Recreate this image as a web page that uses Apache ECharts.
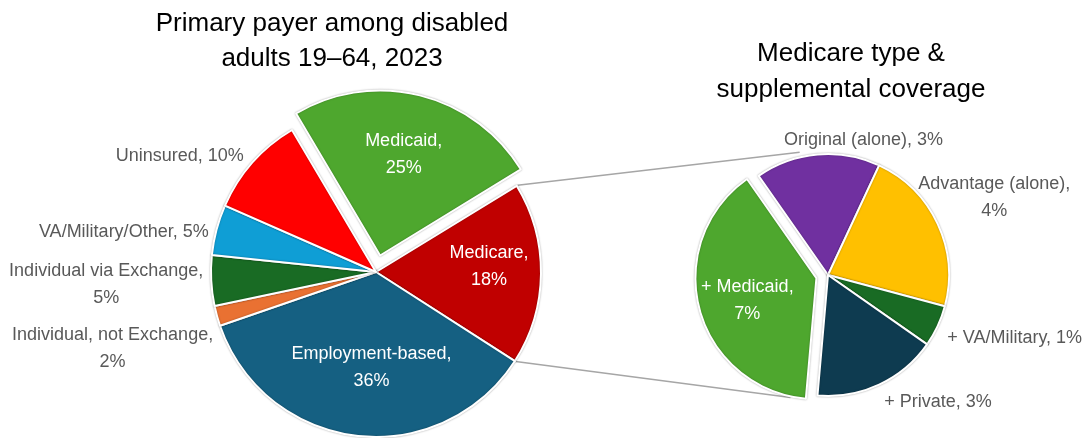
<!DOCTYPE html>
<html>
<head>
<meta charset="utf-8">
<script src="https://cdn.jsdelivr.net/npm/echarts@6/dist/echarts.min.js"></script>
<style>
  html, body { margin: 0; padding: 0; background: #fff; }
  #chart { width: 1086px; height: 438px; }
</style>
</head>
<body>
<div id="chart"></div>
<script>
// Primary payer, disabled adults 19–64 (percent), clockwise from the Medicare slice
const payerNames = ['Medicare', 'Employment-based', 'Individual, not Exchange', 'Individual via Exchange', 'VA/Military/Other', 'Uninsured', 'Medicaid'];
const payerShares = [18, 36, 2, 5, 5, 10, 25];

// Breakdown of the Medicare slice (percent of all disabled adults)
const medicareNames = ['Original (alone)', 'Advantage (alone)', '+ VA/Military', '+ Private', '+ Medicaid'];
const medicareShares = [3, 4, 1, 3, 7];

const payerColors = ['#C00000', '#156082', '#E97132', '#196B24', '#0F9ED5', '#FF0000', '#4EA72E'];
const medicareColors = ['#7030A0', '#FFC000', '#196B24', '#0E3B50', '#4EA72E'];

// separator between name and value in each label (line break or space)
const payerSeps = ['\n', '\n', '\n', '\n', ' ', ' ', '\n'];
const medicareSeps = [' ', '\n', ' ', ' ', '\n'];

const FONT = 'Liberation Sans';
const LABEL_GRAY = '#595959';

// start angles are degrees clockwise from 12 o'clock
const leftPie = { center: [376, 272], radius: 165, start: 58.5, explode: 17 };
const rightPie = { center: [828, 275], radius: 121, start: 325, explode: 12 };

const insideLabels = new Set(['Medicare', 'Employment-based', 'Medicaid', '+ Medicaid']);
const explodedSlices = new Set(['Medicaid', '+ Medicaid']);
// small nudges for labels that sit away from their default spot
const labelNudge = {
  'Medicare': [7, -7],
  'Employment-based': [8, -10],
  'Medicaid': [-2, 2],
  '+ Medicaid': [7, 2],
  'Uninsured': [0, -3],
  'VA/Military/Other': [2, 4],
  'Individual via Exchange': [2, 4],
  'Individual, not Exchange': [6, 31],
  'Original (alone)': [131, -9],
  'Advantage (alone)': [-29, -24],
  '+ VA/Military': [0, 10],
  '+ Private': [-2, 13]
};
const INSIDE_PUSH = 0.24; // move inside labels outward from the default half radius

function buildPie(names, values, colors, seps, geo) {
  return {
    type: 'pie',
    center: geo.center,
    radius: geo.radius,
    startAngle: ((90 - geo.start) % 360 + 360) % 360,
    clockwise: true,
    selectedMode: 'multiple',
    selectedOffset: geo.explode,
    avoidLabelOverlap: false,
    silent: true,
    emphasis: { disabled: true },
    animation: false,
    itemStyle: {
      borderColor: '#ffffff',
      borderWidth: 2,
      shadowBlur: 2,
      shadowColor: 'rgba(0,0,0,0.3)'
    },
    label: {
      show: true,
      position: 'outside',
      fontFamily: FONT,
      fontSize: 18,
      lineHeight: 27,
      color: LABEL_GRAY,
      formatter: p => p.name + ',' + seps[p.dataIndex] + p.value + '%'
    },
    labelLine: { show: false, length: 5, length2: 0 },
    labelLayout: function (params) {
      const name = names[params.dataIndex];
      const r = params.labelRect;
      const cx = r.x + r.width / 2;
      const cy = r.y + r.height / 2;
      const n = labelNudge[name] || [0, 0];
      if (insideLabels.has(name)) {
        return {
          dx: (cx - geo.center[0]) * INSIDE_PUSH + n[0],
          dy: (cy - geo.center[1]) * INSIDE_PUSH + n[1]
        };
      }
      // centre multi-line text on the block while keeping the block in place
      let dx = 0;
      if (params.align === 'right') dx = -r.width / 2;
      else if (params.align === 'left') dx = r.width / 2;
      return { align: 'center', dx: dx + n[0], dy: n[1] };
    },
    data: names.map((n, i) => ({
      name: n,
      value: values[i],
      selected: explodedSlices.has(n),
      itemStyle: { color: colors[i] },
      label: insideLabels.has(n) ? { position: 'inside', color: '#ffffff' } : {}
    }))
  };
}

function pointOn(geo, angleDeg, extra) {
  const a = angleDeg * Math.PI / 180;
  const rr = geo.radius + (extra || 0);
  return [geo.center[0] + rr * Math.sin(a), geo.center[1] - rr * Math.cos(a)];
}

// connector lines from the edges of the Medicare slice to the breakdown pie
const payerTotal = payerShares.reduce((a, b) => a + b, 0);
const medicareStart = leftPie.start;
const medicareEnd = leftPie.start + payerShares[0] / payerTotal * 360;
const topFrom = pointOn(leftPie, medicareStart, 1);
const botFrom = pointOn(leftPie, medicareEnd, 1);
const topTo = pointOn(rightPie, 347, 5);
const botTo = pointOn(rightPie, 197, 7);
const connectorStyle = { stroke: '#A6A6A6', lineWidth: 1.5 };

const chart = echarts.init(document.getElementById('chart'));
chart.setOption({
  backgroundColor: '#ffffff',
  animation: false,
  title: [
    {
      text: 'Primary payer among disabled\nadults 19–64, 2023',
      left: 332, top: 6, padding: 0, textAlign: 'center',
      textStyle: { fontFamily: FONT, fontSize: 26, fontWeight: 'normal', color: '#000000', lineHeight: 35 }
    },
    {
      text: 'Medicare type &\nsupplemental coverage',
      left: 851, top: 36, padding: 0, textAlign: 'center',
      textStyle: { fontFamily: FONT, fontSize: 26, fontWeight: 'normal', color: '#000000', lineHeight: 36 }
    }
  ],
  graphic: [
    { type: 'line', z: 0, silent: true, shape: { x1: topFrom[0], y1: topFrom[1], x2: topTo[0], y2: topTo[1] }, style: connectorStyle },
    { type: 'line', z: 0, silent: true, shape: { x1: botFrom[0], y1: botFrom[1], x2: botTo[0], y2: botTo[1] }, style: connectorStyle }
  ],
  series: [
    buildPie(payerNames, payerShares, payerColors, payerSeps, leftPie),
    buildPie(medicareNames, medicareShares, medicareColors, medicareSeps, rightPie)
  ]
});
</script>
</body>
</html>
